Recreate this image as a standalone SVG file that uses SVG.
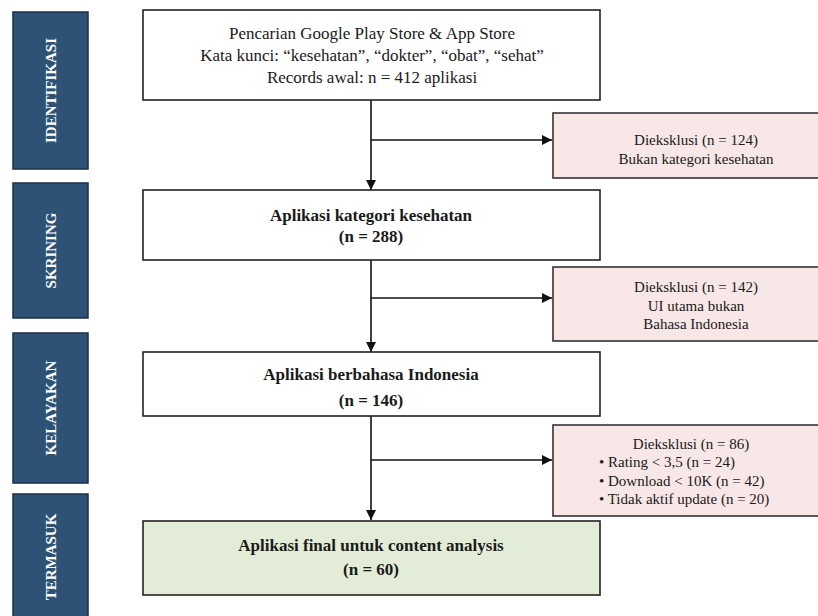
<svg xmlns="http://www.w3.org/2000/svg" width="818" height="616" viewBox="0 0 818 616">
<defs>
<marker id="ah" viewBox="0 0 10 10" refX="10" refY="5" markerWidth="10" markerHeight="10" markerUnits="userSpaceOnUse" orient="auto">
<path d="M0,0 L10,5 L0,10 z" fill="#111"/>
</marker>
</defs>
<style>
.side{fill:#2e5276;stroke:#1b2f45;stroke-width:1.5}
.stxt{font-family:"Liberation Serif","Times New Roman",serif;font-size:15px;font-weight:bold;fill:#ffffff;text-anchor:middle}
.main{fill:#ffffff;stroke:#222;stroke-width:1.6}
.excl{fill:#f8e7e7;stroke:#333;stroke-width:1.6}
.fin{fill:#e2ecd7;stroke:#222;stroke-width:1.6}
.t{font-family:"Liberation Serif","Times New Roman",serif;font-size:17px;fill:#1a1a1a;text-anchor:middle}
.b{font-weight:bold}
.e{font-family:"Liberation Serif","Times New Roman",serif;font-size:15px;fill:#1a1a1a;text-anchor:middle}
.el{font-family:"Liberation Serif","Times New Roman",serif;font-size:15px;fill:#1a1a1a}
.c{fill:none;stroke:#111;stroke-width:1.6}
</style>
<rect width="818" height="616" fill="#ffffff"/>

<g id="stage-identifikasi">
<rect class="side" x="13" y="12" width="75" height="157"/>
<text class="stxt" transform="translate(56,90.5) rotate(-90)">IDENTIFIKASI</text>
</g>
<g id="stage-skrining">
<rect class="side" x="13" y="183" width="75" height="135"/>
<text class="stxt" transform="translate(56,250.5) rotate(-90)">SKRINING</text>
</g>
<g id="stage-kelayakan">
<rect class="side" x="13" y="333" width="75" height="150"/>
<text class="stxt" transform="translate(56,408) rotate(-90)">KELAYAKAN</text>
</g>
<g id="stage-termasuk">
<rect class="side" x="13" y="494" width="75" height="128"/>
<text class="stxt" transform="translate(56,557) rotate(-90)">TERMASUK</text>
</g>

<g id="connectors">
<line class="c" x1="371" y1="100" x2="371" y2="190" marker-end="url(#ah)"/>
<line class="c" x1="371" y1="140" x2="552" y2="140" marker-end="url(#ah)"/>
<line class="c" x1="371" y1="260" x2="371" y2="352" marker-end="url(#ah)"/>
<line class="c" x1="371" y1="298" x2="552" y2="298" marker-end="url(#ah)"/>
<line class="c" x1="371" y1="416" x2="371" y2="520" marker-end="url(#ah)"/>
<line class="c" x1="371" y1="460" x2="552" y2="460" marker-end="url(#ah)"/>
</g>

<g id="node-identification">
<rect class="main" x="143" y="10" width="457" height="90"/>
<text class="t" x="372" y="39">Pencarian Google Play Store &amp; App Store</text>
<text class="t" x="372" y="61">Kata kunci: “kesehatan”, “dokter”, “obat”,  “sehat”</text>
<text class="t" x="372" y="83">Records awal: n = 412 aplikasi</text>
</g>

<g id="node-excl1">
<rect class="excl" x="553" y="113" width="290" height="65"/>
<text class="e" x="696" y="145">Dieksklusi (n = 124)</text>
<text class="e" x="696" y="164">Bukan kategori kesehatan</text>
</g>

<g id="node-screening">
<rect class="main" x="143" y="190" width="457" height="70"/>
<text class="t b" x="371" y="221">Aplikasi kategori kesehatan</text>
<text class="t b" x="371" y="242">(n = 288)</text>
</g>

<g id="node-excl2">
<rect class="excl" x="553" y="267" width="290" height="74"/>
<text class="e" x="696" y="292">Dieksklusi (n = 142)</text>
<text class="e" x="696" y="311">UI utama bukan</text>
<text class="e" x="696" y="329">Bahasa Indonesia</text>
</g>

<g id="node-eligibility">
<rect class="main" x="143" y="352" width="457" height="64"/>
<text class="t b" x="371" y="380">Aplikasi berbahasa Indonesia</text>
<text class="t b" x="371" y="406">(n = 146)</text>
</g>

<g id="node-excl3">
<rect class="excl" x="553" y="425" width="290" height="91"/>
<text class="e" x="691" y="449">Dieksklusi (n = 86)</text>
<text class="el" x="599" y="467">• Rating &lt; 3,5 (n = 24)</text>
<text class="el" x="599" y="486">• Download &lt; 10K (n = 42)</text>
<text class="el" x="599" y="504">• Tidak aktif update (n = 20)</text>
</g>

<g id="node-included">
<rect class="fin" x="143" y="521" width="457" height="74"/>
<text class="t b" x="371" y="551">Aplikasi final untuk content analysis</text>
<text class="t b" x="371" y="575">(n = 60)</text>
</g>
</svg>
